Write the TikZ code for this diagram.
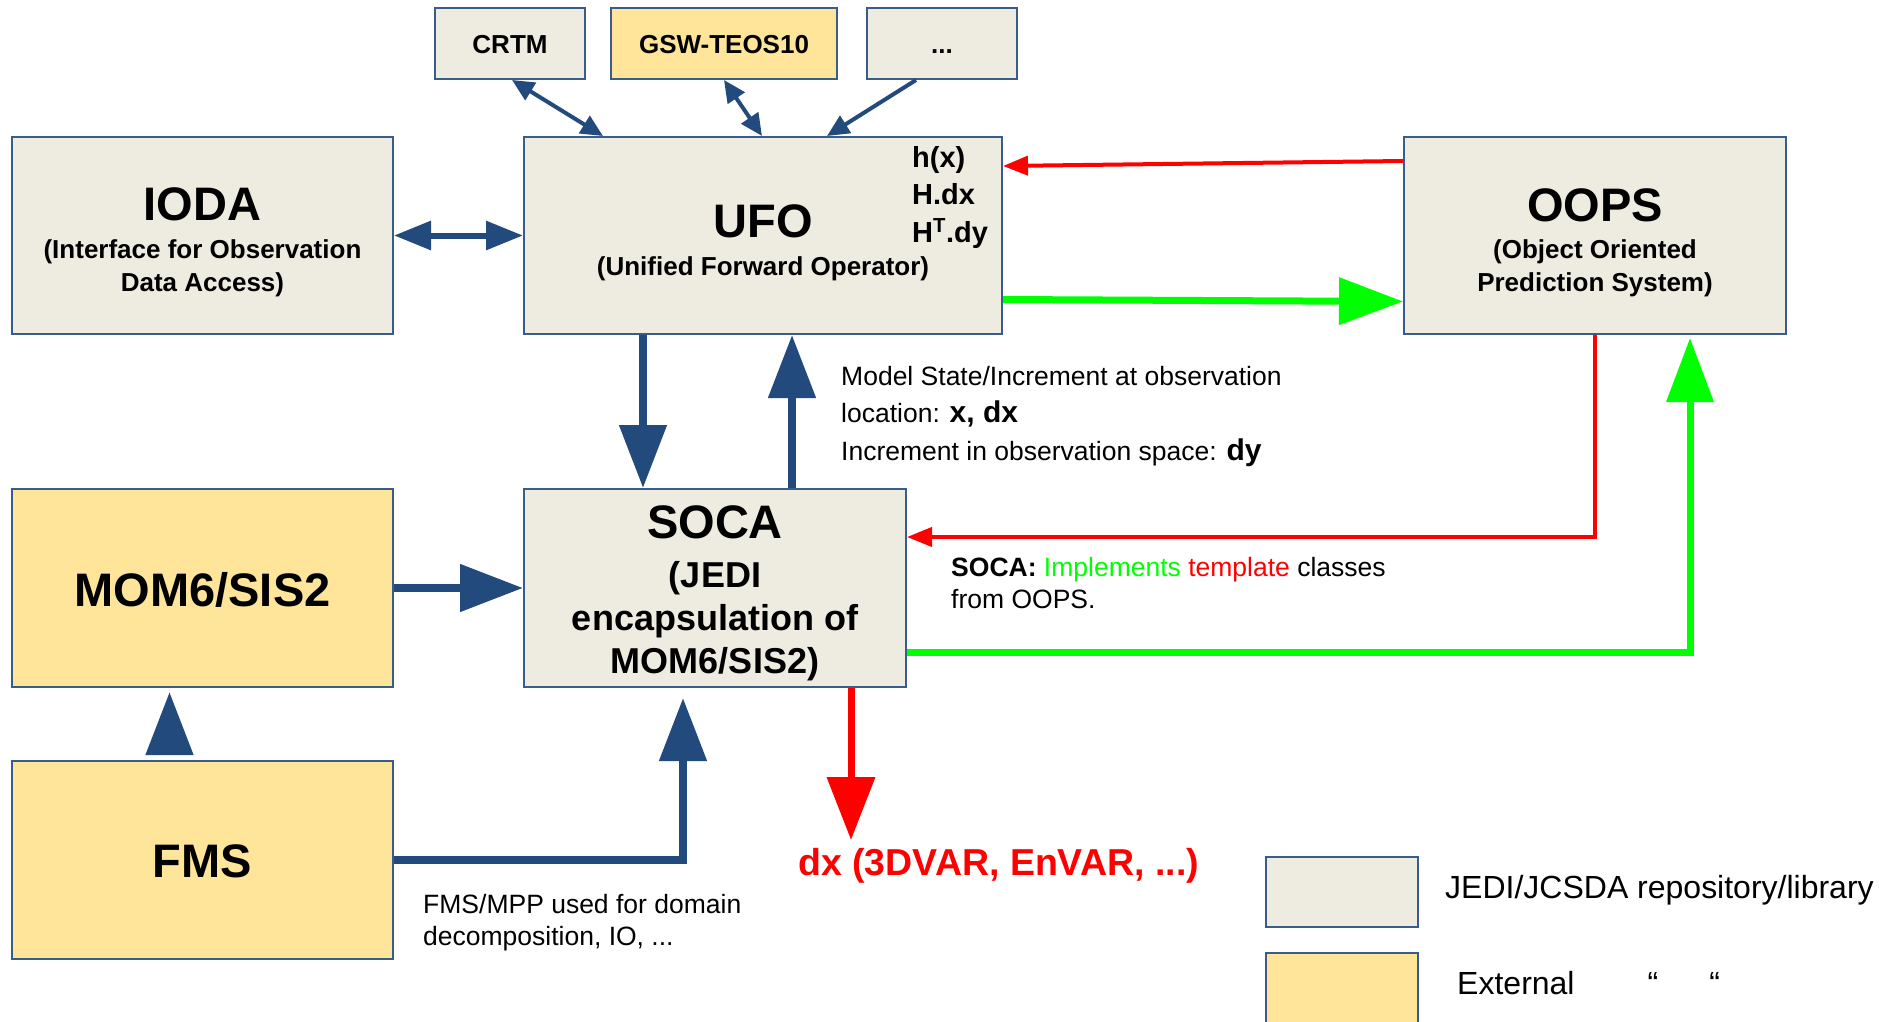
\documentclass[tikz,border=0pt]{standalone}
\usepackage{fontspec}
\setmainfont{Liberation Sans}
\usetikzlibrary{arrows.meta, positioning}

\definecolor{jedigray}{HTML}{EEECE1}
\definecolor{extyellow}{HTML}{FFE599}
\definecolor{boxline}{HTML}{385D8A}
\definecolor{navy}{HTML}{224A7C}
\definecolor{pureRed}{HTML}{FF0000}
\definecolor{pureGreen}{HTML}{00FF00}

\newcommand{\titlesz}{\bfseries\fontsize{47}{56}\selectfont}
\newcommand{\subsz}{\bfseries\fontsize{26}{33}\selectfont}
\newcommand{\libsz}{\bfseries\fontsize{26}{30}\selectfont}
\newcommand{\socasz}{\bfseries\fontsize{36}{43}\selectfont}
\newcommand{\opsz}{\bfseries\fontsize{29}{37.5}\selectfont}
\newcommand{\notesz}{\fontsize{26.5}{37.5}\selectfont}
\newcommand{\notebf}{\bfseries\fontsize{30}{37.5}\selectfont}

\tikzset{
	repo/.style={draw=boxline, line width=2pt, fill=jedigray, inner sep=0pt},
	ext/.style={repo, fill=extyellow},
	txt/.style={inner sep=0pt, anchor=base},
	note/.style={inner sep=0pt, anchor=base west, align=left, font=\notesz},
	bigflow/.style={draw=navy, line width=8pt, -{Triangle[length=63pt,width=46pt]}},
	smallflow/.style={draw=navy, line width=4pt, -{Triangle[length=22pt,width=20pt]}},
	redthin/.style={draw=pureRed, line width=4pt, -{Triangle[length=25pt,width=19pt]}},
	redbig/.style={draw=pureRed, line width=7pt, -{Triangle[length=63pt,width=47pt]}},
	greenbig/.style={draw=pureGreen, line width=7pt, -{Triangle[length=64pt,width=46pt]}}
}

\begin{document}
\begin{tikzpicture}[x=1pt, y=-1pt]
	\useasboundingbox (0,0) rectangle (1879,1022);

	\node[repo, minimum width=150pt, minimum height=71pt] (crtm) at (510,43.5) {};
	\node[ext, minimum width=226pt, minimum height=71pt] (gsw) at (724,43.5) {};
	\node[repo, minimum width=150pt, minimum height=71pt] (more) at (942,43.5) {};
	\node[txt, font=\libsz] (crtmt) at (510,54) {CRTM};
	\node[txt, font=\libsz] (gswt) at (724,54) {GSW-TEOS10};
	\node[txt, font=\libsz] (moret) at (942,54) {...};

	\node[repo, minimum width=381pt, minimum height=197pt] (ioda) at (202.5,235.5) {};
	\node[repo, minimum width=478pt, minimum height=197pt] (ufo) at (763,235.5) {};
	\node[repo, minimum width=382pt, minimum height=197pt] (oops) at (1595,235.5) {};
	\node[ext, minimum width=381pt, minimum height=198pt] (mom) at (202.5,588) {};
	\node[repo, minimum width=382pt, minimum height=198pt] (soca) at (715,588) {};
	\node[ext, minimum width=381pt, minimum height=198pt] (fms) at (202.5,860) {};

	\node[txt, font=\titlesz] (iodat) at (202.5,220) {IODA};
	\node[txt, font=\subsz, align=center] (iodas) at (202.5,291) {(Interface for Observation\\Data Access)};
	\node[txt, font=\titlesz] (ufot) at (763,237) {UFO};
	\node[txt, font=\subsz] (ufos) at (763,275) {(Unified Forward Operator)};
	\node[txt, font=\opsz, anchor=base west, align=left] (ops) at (912,242) {h(x)\\H.dx\\H\textsuperscript{T}.dy};
	\node[txt, font=\titlesz] (oopst) at (1595,221) {OOPS};
	\node[txt, font=\subsz, align=center] (oopss) at (1595,291) {(Object Oriented\\Prediction System)};
	\node[txt, font=\titlesz] (momt) at (202.5,606) {MOM6/SIS2};
	\node[txt, font=\titlesz] (socat) at (715,538) {SOCA};
	\node[txt, font=\socasz, align=center] (socas) at (715,673) {(JEDI\\encapsulation of\\MOM6/SIS2)};
	\node[txt, font=\titlesz] (fmst) at (202.5,877) {FMS};

	\draw[smallflow, {Triangle[length=22pt,width=20pt]}-{Triangle[length=22pt,width=20pt]}] ([xshift=2pt]crtm.south) -- ([xshift=-160pt]ufo.north);
	\draw[smallflow, {Triangle[length=22pt,width=20pt]}-{Triangle[length=22pt,width=20pt]}] (gsw.south) -- ([xshift=-1pt]ufo.north);
	\draw[smallflow] ([xshift=-26pt]more.south) -- ([xshift=64pt]ufo.north);
	\draw[draw=navy, line width=6pt, {Triangle[length=37pt,width=28pt]}-{Triangle[length=37pt,width=28pt]}] (ioda.east) -- (ufo.west);

	\draw[bigflow] ([xshift=-120pt]ufo.south) -- ([xshift=-120pt]ufo.south |- soca.north);
	\draw[bigflow] ([xshift=77pt]soca.north) -- ([xshift=77pt]soca.north |- ufo.south);
	\draw[bigflow] (mom.east) -- (soca.west);
	\draw[bigflow] ([xshift=-33pt,yshift=8pt]fms.north) -- ([xshift=-33pt,yshift=-4pt]mom.south);
	\draw[bigflow] (fms.east) -| ([xshift=-32pt,yshift=-10pt]soca.south);

	\draw[redthin] ([yshift=-25pt]oops.north west) -- ([yshift=-30pt]ufo.north east);
	\draw[redthin] (oops.south) |- ([yshift=51pt]soca.east);
	\coordinate (dxtip) at (851,840);
	\draw[redbig] ([xshift=136pt]soca.south) -- (dxtip);

	\draw[greenbig] ([yshift=-64pt]ufo.east) -- ([yshift=-66pt]oops.west);
	\draw[greenbig, line join=miter] ([yshift=-64pt]soca.east) -| ([xshift=95pt,yshift=-3pt]oops.south);

	\node[note] (obsnote) at (841,460) {Model State/Increment at observation\\location: {\notebf x, dx}\\Increment in observation space: {\notebf dy}};
	\node[note, font=\fontsize{26.5}{32}\selectfont] (socanote) at (951,608) {\textbf{SOCA:} \textcolor{pureGreen}{Implements} \textcolor{pureRed}{template} classes\\from OOPS.};
	\node[note, font=\fontsize{26.5}{32}\selectfont] (fmsnote) at (423,945) {FMS/MPP used for domain\\decomposition, IO, ...};
	\node[txt, anchor=base west, text=pureRed, font=\bfseries\fontsize{37.5}{42}\selectfont] (dxnote) at (798,875) {dx (3DVAR, EnVAR, ...)};

	\node[repo, minimum width=152pt, minimum height=70pt] (leg1) at (1342,891.5) {};
	\node[ext, minimum width=152pt, minimum height=94pt] (leg2) at (1342,1000) {};
	\node[note, font=\fontsize{32}{38}\selectfont] (leg1t) at (1445,898) {JEDI/JCSDA repository/library};
	\node[note, font=\fontsize{32}{38}\selectfont] (leg2t) at (1457,994) {External\hspace{73pt}``\hspace{51pt}``};
\end{tikzpicture}
\end{document}
